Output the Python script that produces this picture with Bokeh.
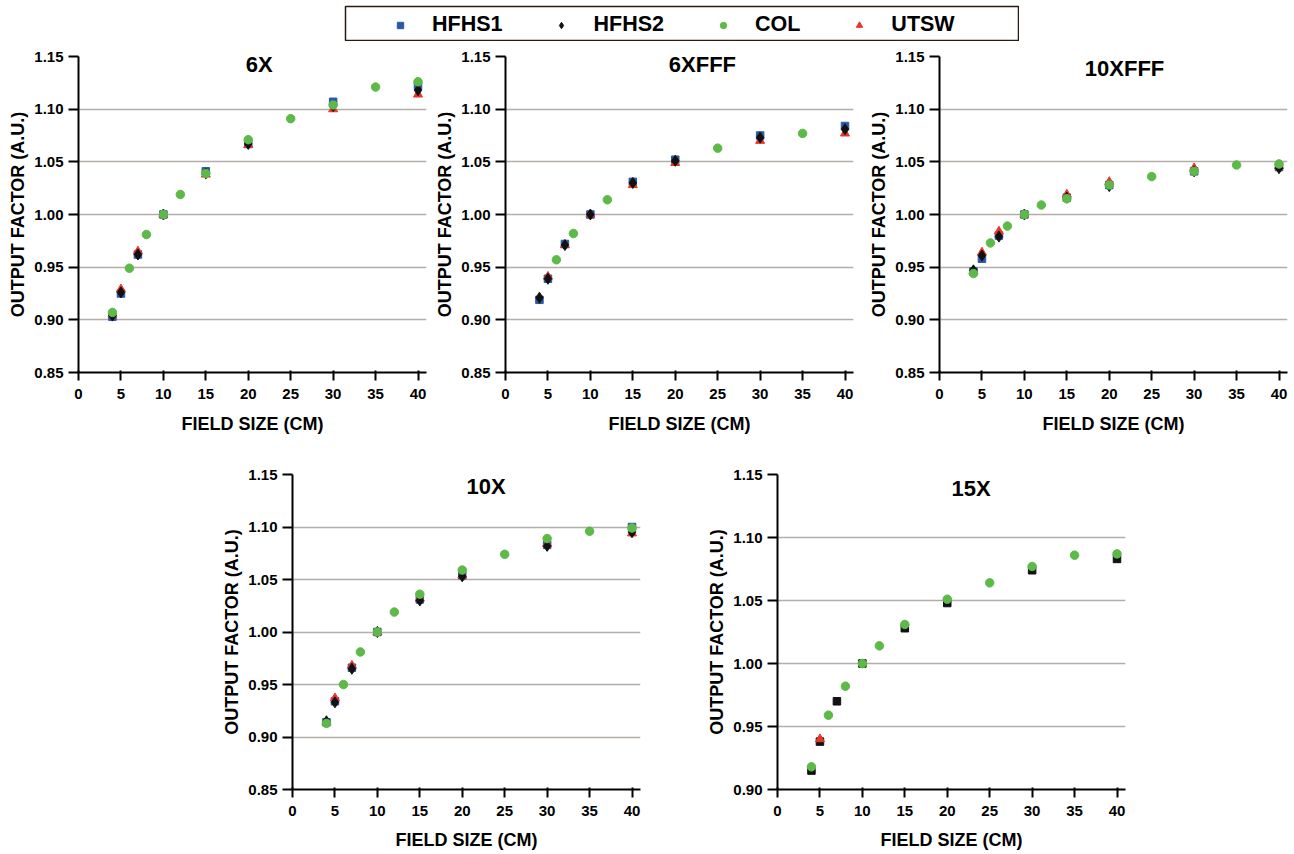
from bokeh.plotting import figure
from bokeh.models import (Range1d, FixedTicker, PrintfTickFormatter, Label,
                          Legend, LegendItem, Spacer)
from bokeh.layouts import column, row
from bokeh.embed import file_html
from bokeh.resources import INLINE

# ---------------- data ----------------
series_names = ["HFHS1", "HFHS2", "COL", "UTSW"]
panel_titles = ["6X", "6XFFF", "10XFFF", "10X", "15X"]
x_ticks = [0, 5, 10, 15, 20, 25, 30, 35, 40]
y_ticks_main = [0.85, 0.90, 0.95, 1.00, 1.05, 1.10, 1.15]
y_ticks_15x = [0.90, 0.95, 1.00, 1.05, 1.10, 1.15]
grid_values = [0.90, 0.95, 1.00, 1.05, 1.10]

x_main = [4, 5, 7, 10, 15, 20, 30, 40]
x_col = [4, 6, 8, 10, 12, 15, 20, 25, 30, 35, 40]
x_utsw_6xfff = [5, 7, 10, 15, 20, 30, 40]
x_col_6xfff = [6, 8, 12, 25, 35]
x_utsw_15x = [5]

# 6X
hfhs1_6x = [0.903, 0.925, 0.962, 1.000, 1.041, 1.067, 1.107, 1.122]
hfhs2_6x = [0.904, 0.926, 0.962, 1.000, 1.039, 1.067, 1.103, 1.118]
utsw_6x = [0.905, 0.929, 0.965, 1.000, 1.038, 1.066, 1.100, 1.114]
col_6x = [0.907, 0.949, 0.981, 1.000, 1.019, 1.039, 1.071, 1.091, 1.104, 1.121, 1.126]
# 6XFFF
hfhs1_6xfff = [0.919, 0.939, 0.972, 1.000, 1.031, 1.052, 1.075, 1.084]
hfhs2_6xfff = [0.921, 0.939, 0.971, 1.000, 1.030, 1.051, 1.073, 1.081]
utsw_6xfff = [0.941, 0.971, 1.000, 1.028, 1.049, 1.070, 1.077]
col_6xfff = [0.957, 0.982, 1.014, 1.063, 1.077]
# 10XFFF
hfhs1_10xfff = [0.946, 0.958, 0.980, 1.000, 1.016, 1.028, 1.041, 1.045]
hfhs2_10xfff = [0.947, 0.961, 0.979, 1.000, 1.016, 1.027, 1.041, 1.044]
utsw_10xfff = [0.946, 0.964, 0.984, 1.000, 1.019, 1.031, 1.044, 1.046]
col_10xfff = [0.944, 0.973, 0.989, 1.000, 1.009, 1.015, 1.028, 1.036, 1.041, 1.047, 1.048]
# 10X
hfhs1_10x = [0.914, 0.934, 0.966, 1.000, 1.031, 1.054, 1.083, 1.100]
hfhs2_10x = [0.915, 0.933, 0.965, 1.000, 1.030, 1.053, 1.082, 1.095]
utsw_10x = [0.914, 0.937, 0.968, 1.000, 1.032, 1.054, 1.084, 1.094]
col_10x = [0.913, 0.950, 0.981, 1.000, 1.019, 1.036, 1.059, 1.074, 1.089, 1.096, 1.099]
# 15X (HFHS drawn as black squares)
hfhs1_15x = [0.915, 0.938, 0.970, 1.000, 1.028, 1.048, 1.074, 1.083]
utsw_15x = [0.940]
col_15x = [0.918, 0.959, 0.982, 1.000, 1.014, 1.031, 1.051, 1.064, 1.077, 1.086, 1.087]

panel_data = {
    "6X": {"HFHS1": (x_main, hfhs1_6x), "UTSW": (x_main, utsw_6x),
           "HFHS2": (x_main, hfhs2_6x), "COL": (x_col, col_6x)},
    "6XFFF": {"HFHS1": (x_main, hfhs1_6xfff), "UTSW": (x_utsw_6xfff, utsw_6xfff),
              "HFHS2": (x_main, hfhs2_6xfff), "COL": (x_col_6xfff, col_6xfff)},
    "10XFFF": {"HFHS1": (x_main, hfhs1_10xfff), "UTSW": (x_main, utsw_10xfff),
               "HFHS2": (x_main, hfhs2_10xfff), "COL": (x_col, col_10xfff)},
    "10X": {"HFHS1": (x_main, hfhs1_10x), "UTSW": (x_main, utsw_10x),
            "HFHS2": (x_main, hfhs2_10x), "COL": (x_col, col_10x)},
    "15X": {"UTSW": (x_utsw_15x, utsw_15x), "HFHS1": (x_main, hfhs1_15x),
            "COL": (x_col, col_15x)},
}

# ---------------- styles ----------------
FONT = "Liberation Sans"
STYLE = {
    "HFHS1": dict(marker="square", color="#2b59a8", size=7.5),
    "HFHS2": dict(marker="diamond", color="#111111", size=11),
    "COL": dict(marker="circle", color="#5dba48", size=8.5),
    "UTSW": dict(marker="triangle", color="#e8352b", size=9),
}
DRAW_ORDER = ["HFHS1", "UTSW", "HFHS2", "COL"]
GRID_COLOR = "#b5ada8"

cfg = {
    "6X": dict(w=430, h=399, bl=78, br=4, bt=15, bb=68, tx=21.3, ty=1.1422,
               y0=0.85, yt=y_ticks_main, ls=12),
    "6XFFF": dict(w=430, h=399, bl=75, br=7, bt=15, bb=68, tx=23.2, ty=1.1422,
                  y0=0.85, yt=y_ticks_main, ls=12),
    "10XFFF": dict(w=430, h=399, bl=79, br=3, bt=15, bb=68, tx=21.8, ty=1.139,
                   y0=0.85, yt=y_ticks_main, ls=12),
    "10X": dict(w=485, h=413, bl=79, br=58, bt=34, bb=64, tx=22.8, ty=1.139,
                y0=0.85, yt=y_ticks_main, ls=11),
    "15X": dict(w=430, h=413, bl=79, br=3, bt=34, bb=64, tx=22.8, ty=1.139,
                y0=0.90, yt=y_ticks_15x, ls=11),
}


def make_panel(name):
    c = cfg[name]
    p = figure(width=c["w"], height=c["h"], output_backend="svg",
               toolbar_location=None, x_range=Range1d(0, 41),
               y_range=Range1d(c["y0"], 1.15),
               min_border_left=c["bl"], min_border_right=c["br"],
               min_border_top=c["bt"], min_border_bottom=c["bb"])
    p.outline_line_color = None
    p.background_fill_color = "white"
    p.border_fill_color = "white"
    p.xgrid.visible = False
    p.ygrid.ticker = FixedTicker(ticks=grid_values)
    p.ygrid.grid_line_color = GRID_COLOR
    p.ygrid.grid_line_width = 1.6

    p.xaxis.ticker = FixedTicker(ticks=x_ticks)
    p.yaxis.ticker = FixedTicker(ticks=c["yt"])
    p.yaxis.formatter = PrintfTickFormatter(format="%.2f")
    p.xaxis.axis_label = "FIELD SIZE (CM)"
    p.yaxis.axis_label = "OUTPUT FACTOR (A.U.)"
    for ax in (p.xaxis, p.yaxis):
        ax.axis_line_color = "black"
        ax.axis_line_width = 2
        ax.major_tick_line_color = "black"
        ax.major_tick_line_width = 2
        ax.minor_tick_line_color = None
        ax.major_label_text_font = FONT
        ax.major_label_text_font_style = "bold"
        ax.major_label_text_font_size = "15px"
        ax.major_label_text_color = "black"
        ax.axis_label_text_font = FONT
        ax.axis_label_text_font_style = "bold"
        ax.axis_label_text_font_size = "18px"
        ax.axis_label_text_color = "black"
    p.xaxis.major_tick_out = 8
    p.xaxis.major_tick_in = 2
    p.xaxis.major_label_standoff = 8
    p.xaxis.axis_label_standoff = c["ls"]
    p.yaxis.major_tick_out = 10
    p.yaxis.major_tick_in = 0
    p.yaxis.major_label_standoff = 5
    p.yaxis.axis_label_standoff = 3

    d = panel_data[name]
    for s in DRAW_ORDER:
        if s not in d:
            continue
        xs, ys = d[s]
        st = dict(STYLE[s])
        if name == "15X" and s == "HFHS1":
            st["color"] = "#111111"
        p.scatter(x=xs, y=ys, marker=st["marker"], size=st["size"],
                  fill_color=st["color"], line_color=st["color"])

    p.add_layout(Label(x=c["tx"], y=c["ty"], text=name, text_align="center",
                       text_baseline="middle", text_font=FONT,
                       text_font_style="bold", text_font_size="22px",
                       text_color="black", level="overlay"))
    return p


panels = {n: make_panel(n) for n in panel_titles}

# ---------------- legend ----------------
# legend-only figure: its frame is the legend box; the proxy renderers sit
# outside the visible range so that only the legend shows them.
lg = figure(width=675, height=41, output_backend="svg", toolbar_location=None,
            x_axis_location=None, y_axis_location=None,
            x_range=Range1d(100, 101), y_range=Range1d(100, 101),
            min_border_left=1, min_border_right=1, min_border_top=6,
            min_border_bottom=1)
lg.xgrid.visible = False
lg.ygrid.visible = False
lg.outline_line_color = "#2a1a12"
lg.outline_line_width = 1.5
lg.background_fill_color = "white"
first_points = {"HFHS1": (x_main, hfhs1_6x), "HFHS2": (x_main, hfhs2_6x),
                "COL": (x_col, col_6x), "UTSW": (x_main, utsw_6x)}
items = []
for s in series_names:
    st = STYLE[s]
    xs, ys = first_points[s]
    r = lg.scatter(x=xs[:1], y=ys[:1], marker=st["marker"], size=st["size"] + 2,
                   fill_color=st["color"], line_color=st["color"])
    items.append(LegendItem(label=s, renderers=[r]))
legend = Legend(items=items, orientation="horizontal", location=(47, 3),
                glyph_width=16, glyph_height=16, label_standoff=24, spacing=51,
                padding=2, margin=0, border_line_color=None,
                background_fill_alpha=0, label_text_font=FONT,
                label_text_font_style="bold", label_text_font_size="21.5px",
                label_text_color="black")
lg.add_layout(legend, "center")

layout = column(
    row(Spacer(width=344, height=41), lg),
    row(panels["6X"], panels["6XFFF"], panels["10XFFF"]),
    row(Spacer(width=213, height=413), panels["10X"], panels["15X"]),
)

open("out.html", "w").write(file_html(layout, INLINE))
